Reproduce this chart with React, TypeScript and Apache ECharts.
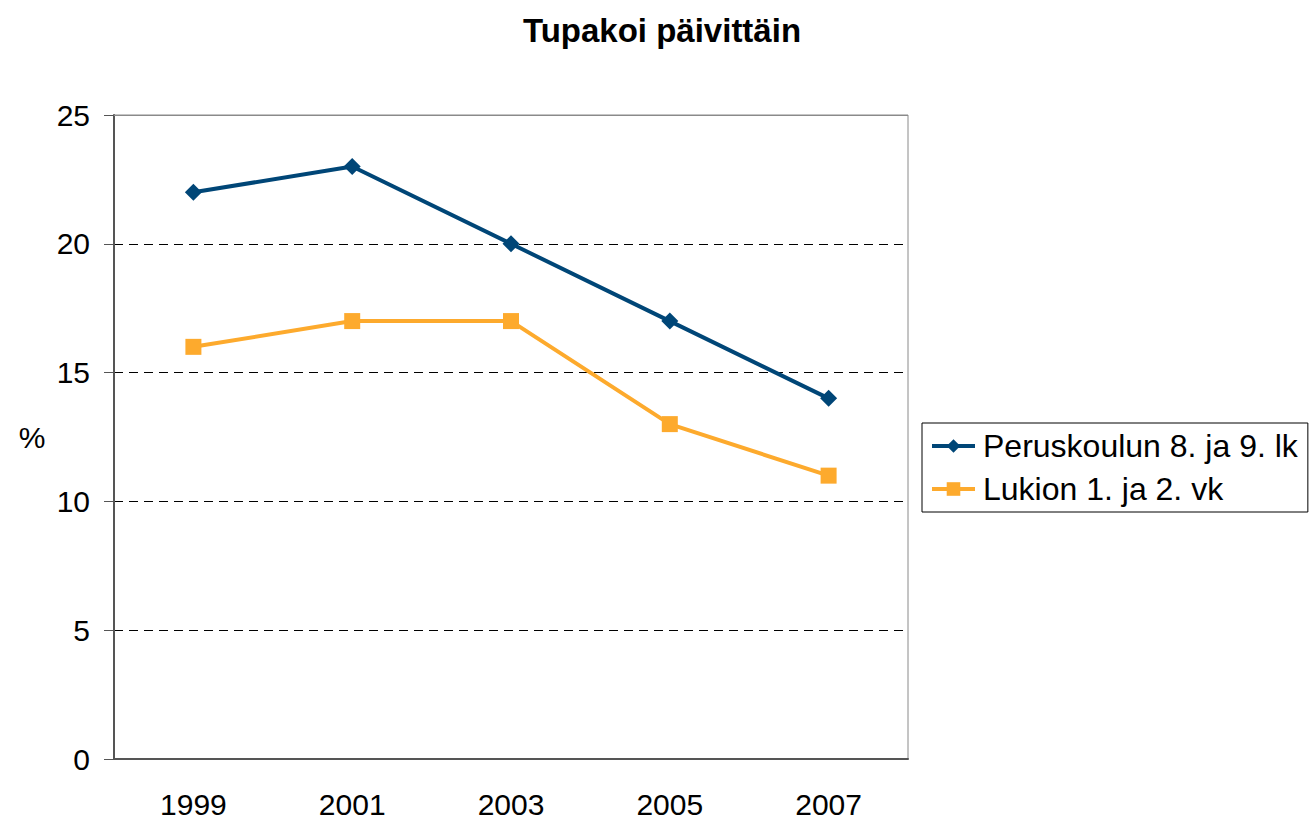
import React, { useEffect, useRef } from "react";
import * as echarts from "echarts";

const years = ["1999", "2001", "2003", "2005", "2007"];
const perus = [22, 23, 20, 17, 14];
const lukio = [16, 17, 17, 13, 11];
const seriesNames = ["Peruskoulun 8. ja 9. lk", "Lukion 1. ja 2. vk"];
const titleText = "Tupakoi päivittäin";
const yMin = 0;
const yMax = 25;
const yStep = 5;

const FONT = "'Liberation Sans', Arial, sans-serif";
const BLUE = "#004677";
const ORANGE = "#FDAA2D";

export default function App() {
  const ref = useRef<HTMLDivElement>(null);
  useEffect(() => {
    if (!ref.current) return;
    const chart = echarts.init(ref.current, undefined, { renderer: "svg" });
    chart.setOption({
      animation: false,
      backgroundColor: "#fff",
      textStyle: { fontFamily: FONT },
      title: {
        text: titleText,
        left: 657,
        top: 9,
        textAlign: "center",
        textStyle: { fontFamily: FONT, fontSize: 33, fontWeight: "bold", color: "#000" },
      },
      graphic: [
        {
          type: "text",
          x: 32,
          y: 437,
          style: { text: "%", font: `30px ${FONT}`, fill: "#000", textAlign: "center", textVerticalAlign: "middle" },
        },
      ],
      grid: {
        left: 114,
        right: 403,
        top: 115,
        bottom: 59,
        show: true,
        borderColor: "#8a8a8a",
        borderWidth: 1,
        containLabel: false,
      },
      legend: {
        orient: "vertical",
        left: 922,
        top: 423,
        padding: [7, 10, 7, 8],
        itemGap: 11,
        itemWidth: 43,
        itemHeight: 17,
        borderColor: "#000",
        borderWidth: 1,
        lineStyle: { width: 4 },
        textStyle: { fontFamily: FONT, fontSize: 32, color: "#000", lineHeight: 32, padding: [0, 0, 0, 3] },
        data: seriesNames,
      },
      xAxis: {
        type: "category",
        data: years,
        boundaryGap: true,
        axisLine: { show: true, lineStyle: { color: "#555", width: 2 } },
        axisTick: { show: false },
        axisLabel: { fontFamily: FONT, fontSize: 30, color: "#000", margin: 30 },
        splitLine: { show: false },
      },
      yAxis: {
        type: "value",
        min: yMin,
        max: yMax,
        interval: yStep,
        axisLine: { show: true, lineStyle: { color: "#555", width: 2 } },
        axisTick: { show: true, length: 10, lineStyle: { color: "#555", width: 1 } },
        axisLabel: { fontFamily: FONT, fontSize: 30, color: "#000", margin: 24 },
        splitLine: { show: true, lineStyle: { color: "#000", width: 1, type: [9, 6] } },
      },
      series: [
        {
          name: seriesNames[0],
          type: "line",
          data: perus,
          symbol: "diamond",
          symbolSize: 17,
          lineStyle: { color: BLUE, width: 4 },
          itemStyle: { color: BLUE },
          markLine: {
            silent: true,
            symbol: "none",
            label: { show: false },
            lineStyle: { color: "#8a8a8a", width: 1, type: "solid" },
            data: [{ yAxis: yMax }],
          },
        },
        {
          name: seriesNames[1],
          type: "line",
          data: lukio,
          symbol: "rect",
          symbolSize: 16,
          lineStyle: { color: ORANGE, width: 4 },
          itemStyle: { color: ORANGE },
        },
      ],
    });
    return () => chart.dispose();
  }, []);
  return <div ref={ref} style={{ width: 1311, height: 819, position: "absolute", left: 0, top: 0 }} />;
}
